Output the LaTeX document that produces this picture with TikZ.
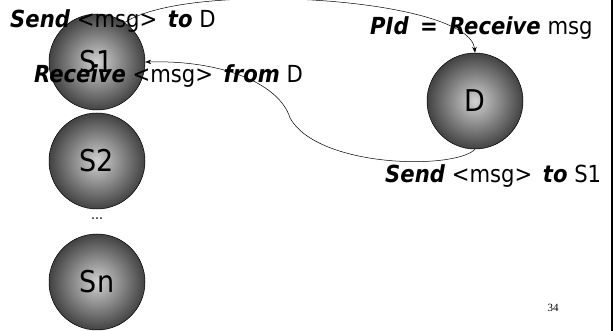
\documentclass[tikz,border=0pt]{standalone}
\usepackage{fontspec}
\setmainfont{DejaVu Sans Condensed}
\newfontfamily\pagenumfont{Liberation Serif}
\usetikzlibrary{arrows.meta}
\newcommand{\kw}[1]{\textbf{\textit{#1}}}
\begin{document}
\begin{tikzpicture}[x=1pt,y=-1pt,
  proc/.style={circle, draw=black, line width=0.5pt, minimum size=96pt,
    inner sep=0pt, inner color=black!18, outer color=black!74,
    font=\fontsize{30}{30}\selectfont},
  lbl/.style={anchor=base west, inner sep=0pt,
    font=\fontsize{23.5}{24}\selectfont},
  msg/.style={-{Stealth[length=6pt,width=4.5pt]}, line width=0.5pt}]
\useasboundingbox (0,0) rectangle (614,331);

% processes
\node[proc] (S1) at (97,62) {S1};
\node[proc] (S2) at (97,161) {S2};
\node[inner sep=0pt, font=\fontsize{14}{14}\selectfont] (dots) at (97,219) {...};
\node[proc] (Sn) at (97,282) {Sn};
\node[proc] (D) at (475,101) {D};

% messages
\draw[msg] (S1.55) .. controls (190,-20) and (470,-2) .. (D.north);
\coordinate (bend) at (290,118);
\draw[msg] (D.south) .. controls (455,170) and (318,168) .. (bend)
  .. controls (280,85) and (225,60) .. (S1.east);

% operation labels
\node[lbl] (sendD) at (10,28) {\kw{Send} <msg>\, \kw{to} D};
\node[lbl] (recvD) at (34,83) {\kw{Receive} <msg>\, \kw{from} D};
\node[lbl] (recvAny) at (370,35) {\kw{PId\hspace{4pt} =\hspace{4pt} Receive} msg};
\node[lbl] (sendS1) at (385,183) {\kw{Send} <msg>\, \kw{to} S1};

% page number and frame edge
\node[inner sep=0pt, font=\pagenumfont\fontsize{11}{11}\selectfont] (page) at (553,308) {34};
\draw[line width=2pt] (612,0) -- (612,331);
\end{tikzpicture}
\end{document}
